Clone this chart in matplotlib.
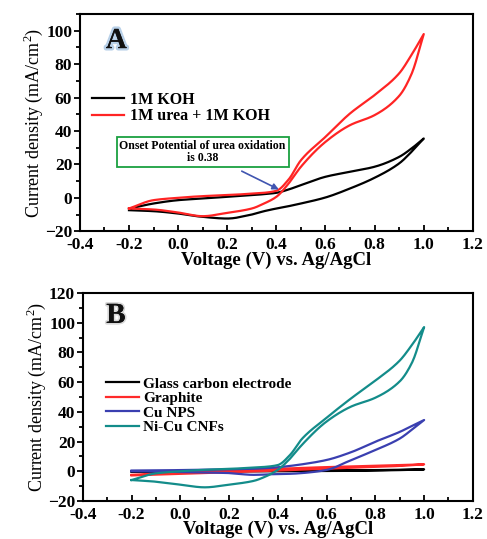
import matplotlib.pyplot as plt
import matplotlib.patheffects as pe
from matplotlib.ticker import MultipleLocator
import numpy as np

plt.rcParams['font.family'] = ['Liberation Serif', 'DejaVu Serif']
plt.rcParams['mathtext.fontset'] = 'custom'
plt.rcParams['mathtext.rm'] = 'Liberation Serif'

# --- CV data, current density (mA/cm2) sampled at these potentials (V) ---
# anodic sweep runs up v_grid, cathodic sweep comes back down it
v_grid = [-0.2, -0.1, 0.0, 0.1, 0.2, 0.3, 0.35, 0.4, 0.45, 0.5, 0.6, 0.7, 0.8, 0.9, 0.95, 1.0]

koh_fwd = [-6.5, -3.4, -1.4, -0.4, 0.6, 1.6, 2.2, 3.0, 5.0, 7.6, 12.6, 15.6, 18.6, 24.5, 29.5, 35.5]
koh_rev = [35.5, 27.5, 20.6, 12.0, 5.6, 0.2, -3.4, -5.0, -6.4, -8.0, -10.0, -12.4, -11.4, -9.4, -8.0, -7.4]

urea_fwd = [-6.4, -1.4, 0.0, 1.0, 1.6, 2.5, 3.0, 4.2, 11.0, 22.5, 36.5, 50.5, 61.5, 74.5, 85.5, 98.0]
urea_rev = [98.0, 74.0, 61.0, 49.5, 43.5, 33.5, 18.6, 8.6, 0.6, -3.4, -6.4, -9.0, -11.0, -8.8, -7.0, -6.4]

gce_fwd = [0.0, 0.1, 0.2, 0.3, 0.35, 0.4, 0.45, 0.5, 0.5, 0.55, 0.6, 0.7, 0.8, 1.0, 1.1, 1.3]
gce_rev = [1.3, 1.0, 0.8, 0.5, 0.3, 0.2, 0.1, 0.0, 0.0, -0.1, -0.1, -0.2, -0.2, -0.3, -0.3, -0.3]

graphite_fwd = [-2.4, -1.6, -0.9, -0.2, 0.5, 1.1, 1.4, 1.7, 2.0, 2.3, 2.8, 3.3, 3.8, 4.2, 4.4, 4.7]
graphite_rev = [4.7, 4.1, 3.6, 3.0, 2.4, 1.8, 1.1, 0.8, 0.5, 0.2, -0.1, -0.6, -1.2, -1.7, -2.2, -2.8]

cu_fwd = [0.5, 0.6, 0.8, 1.0, 1.3, 1.7, 2.1, 2.7, 3.6, 4.7, 7.6, 12.8, 19.9, 26.5, 30.5, 34.5]
cu_rev = [34.5, 28.0, 22.0, 14.3, 7.5, 0.9, -1.2, -1.7, -1.8, -2.2, -2.4, -1.2, -0.8, -0.4, -0.2, 0.0]

ni_fwd = [-5.9, -1.4, 0.0, 1.0, 1.6, 2.5, 3.0, 4.2, 11.0, 22.0, 36.0, 49.0, 61.0, 74.5, 85.0, 97.0]
ni_rev = [97.0, 73.0, 60.5, 49.5, 43.5, 33.5, 18.0, 8.5, 1.0, -3.5, -6.5, -9.0, -10.8, -9.0, -7.0, -5.9]

labels_a = ['1M KOH', '1M urea + 1M KOH']
colors_a = ['black', '#ff2424']
labels_b = ['Glass carbon electrode', 'Graphite', 'Cu NPS', 'Ni-Cu CNFs']
colors_b = ['black', '#ff2a2a', '#3a3fb0', '#138c8a']


def pchip(x, y, xn):
    # monotone cubic Hermite interpolation (Fritsch-Carlson)
    x = np.asarray(x, float)
    y = np.asarray(y, float)
    h = np.diff(x)
    d = np.diff(y) / h
    m = np.zeros_like(y)
    for i in range(1, len(x) - 1):
        if d[i - 1] * d[i] > 0:
            w1 = 2 * h[i] + h[i - 1]
            w2 = h[i] + 2 * h[i - 1]
            m[i] = (w1 + w2) / (w1 / d[i - 1] + w2 / d[i])
    m[0] = d[0]
    m[-1] = d[-1]
    idx = np.clip(np.searchsorted(x, xn) - 1, 0, len(x) - 2)
    t = (xn - x[idx]) / h[idx]
    h00 = 2 * t**3 - 3 * t**2 + 1
    h10 = t**3 - 2 * t**2 + t
    h01 = -2 * t**3 + 3 * t**2
    h11 = t**3 - t**2
    return (h00 * y[idx] + h10 * h[idx] * m[idx] +
            h01 * y[idx + 1] + h11 * h[idx] * m[idx + 1])


def cv_loop(fwd, rev):
    vv = np.linspace(v_grid[0], v_grid[-1], 300)
    up = pchip(v_grid, fwd, vv)
    down = pchip(v_grid, rev[::-1], vv)[::-1]
    return np.concatenate([vv, vv[::-1]]), np.concatenate([up, down])


def style_axes(ax, ymax):
    ax.set_xlim(-0.4, 1.2)
    ax.set_ylim(-20, ymax)
    ax.xaxis.set_major_locator(MultipleLocator(0.2))
    ax.xaxis.set_minor_locator(MultipleLocator(0.1))
    ax.yaxis.set_major_locator(MultipleLocator(20))
    ax.yaxis.set_minor_locator(MultipleLocator(10))
    ax.tick_params(axis='y', which='both', direction='out', right=False,
                   labelsize=12.5, width=1.3, pad=1)
    ax.tick_params(axis='x', which='both', direction='in', top=False,
                   labelsize=12.5, width=1.3, pad=4)
    ax.tick_params(which='major', length=4.5)
    ax.tick_params(which='minor', length=3)
    ax.xaxis.set_major_formatter(lambda v, p: f'{v:.1f}')
    for lab in ax.get_xticklabels() + ax.get_yticklabels():
        lab.set_fontweight('bold')
    for s in ax.spines.values():
        s.set_linewidth(1.5)
    ax.set_xlabel('Voltage (V) vs. Ag/AgCl', fontsize=13.5, fontweight='bold',
                  labelpad=-1)
    ax.set_ylabel('Current density (mA/cm$^2$)', fontsize=13, labelpad=0)


def draw_curves(ax, names, colors, data):
    for name, color, (fwd, rev) in zip(names, colors, data):
        x, y = cv_loop(fwd, rev)
        ax.plot(x, y, color=color, lw=1.6, label=name)


fig = plt.figure(figsize=(4.87, 5.39), dpi=100)

axA = fig.add_axes([0.164, 0.571, 0.807, 0.403])
draw_curves(axA, labels_a, colors_a, [(koh_fwd, koh_rev), (urea_fwd, urea_rev)])
style_axes(axA, 110)
axA.legend(loc='upper left', bbox_to_anchor=(0.015, 0.67), frameon=False,
           prop={'weight': 'bold', 'size': 11.5}, handlelength=2.0,
           handletextpad=0.4, labelspacing=0.02, borderaxespad=0)
axA.annotate('Onset Potential of urea oxidation\nis 0.38', xy=(0.41, 5),
             xytext=(0.1, 27.5), ha='center', va='center', fontsize=8.5,
             fontweight='bold', linespacing=1.0,
             bbox=dict(boxstyle='square,pad=0.25', fc='white', ec='#1aa040', lw=1.3),
             arrowprops=dict(arrowstyle='-|>', color='#4055b0', lw=1.2,
                             shrinkA=6, shrinkB=0, mutation_scale=9))
axA.text(0.066, 0.843, 'A', transform=axA.transAxes, fontsize=21,
         fontweight='bold', color='#111111', va='baseline',
         path_effects=[pe.withStroke(linewidth=3.5, foreground='#b8d0e8'), pe.Normal()])

axB = fig.add_axes([0.170, 0.0705, 0.801, 0.386])
draw_curves(axB, labels_b, colors_b,
            [(gce_fwd, gce_rev), (graphite_fwd, graphite_rev),
             (cu_fwd, cu_rev), (ni_fwd, ni_rev)])
style_axes(axB, 120)
axB.legend(loc='upper left', bbox_to_anchor=(0.045, 0.625), frameon=False,
           prop={'weight': 'bold', 'size': 11}, handlelength=2.1,
           handletextpad=0.3, labelspacing=0.05, borderaxespad=0)
axB.text(0.06, 0.856, 'B', transform=axB.transAxes, fontsize=21,
         fontweight='bold', color='#111111', va='baseline',
         path_effects=[pe.withStroke(linewidth=2.5, foreground='#d8d8d8'), pe.Normal()])

fig.savefig('out.png', dpi=100)
